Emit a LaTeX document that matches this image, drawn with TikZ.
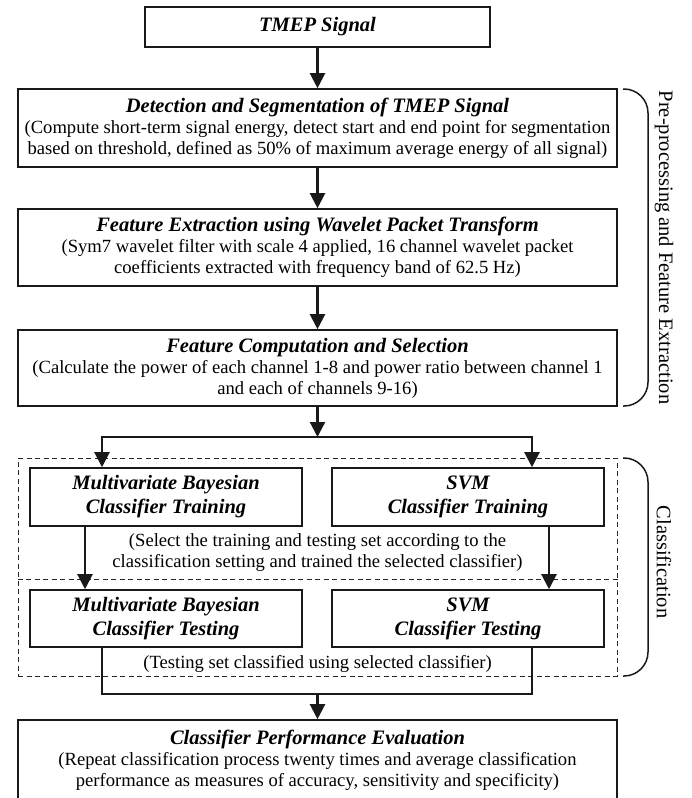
\documentclass[tikz,border=0pt]{standalone}
\usepackage{fontspec}
\setmainfont{Liberation Serif}
\usetikzlibrary{arrows.meta}
\newcommand{\mydesc}{\fontsize{18.6pt}{21pt}\selectfont}
\newcommand{\mytitle}{\fontsize{20.5pt}{21pt}\selectfont\bfseries\itshape}
\newcommand{\mytwo}{\fontsize{20.5pt}{24pt}\selectfont\bfseries\itshape}
\newcommand{\mylab}{\fontsize{20.5pt}{24pt}\selectfont}
\tikzset{
  box/.style={draw=black!90, line width=1.6pt, inner sep=0pt, align=center, font=\mydesc},
  twobox/.style={box, minimum width=272pt, font=\mytwo},
  ln/.style={line width=2.2pt, draw=black!90},
  arr/.style={line width=2.2pt, draw=black!90, -{Triangle[width=15pt,length=15pt]}},
  dsh/.style={line width=1pt, draw=black!85, dash pattern=on 5pt off 3.5pt},
  brk/.style={line width=1.5pt, draw=black!90, rounded corners=24pt},
  lbl/.style={rotate=-90, font=\mylab, inner sep=0pt},
  note/.style={align=center, font=\mydesc, inner sep=0pt}
}
\begin{document}
\begin{tikzpicture}[x=1pt,y={(0pt,-1pt)}]
\useasboundingbox (0,0) rectangle (691,798);
\clip (0,0) rectangle (691,798);

% main column
\node[box, minimum width=345pt, minimum height=40pt] (tmep) at (317.5,27) {\mytitle TMEP Signal};
\node[box, minimum width=599pt, minimum height=78pt] (det) at (317.5,128)
  {{\mytitle Detection and Segmentation of TMEP Signal}\\
   (Compute short-term signal energy, detect start and end point for segmentation\\
   based on threshold, defined as 50\% of maximum average energy of all signal)};
\node[box, minimum width=599pt, minimum height=77pt] (fe) at (317.5,247.5)
  {{\mytitle Feature Extraction using Wavelet Packet Transform}\\
   (Sym7 wavelet filter with scale 4 applied, 16 channel wavelet packet\\
   coefficients extracted with frequency band of 62.5 Hz)};
\node[box, minimum width=599pt, minimum height=76pt] (fc) at (317.5,368)
  {{\mytitle Feature Computation and Selection}\\
   (Calculate the power of each channel 1-8 and power ratio between channel 1\\
   and each of channels 9-16)};

% classification block
\node[dsh, draw, minimum width=599pt, minimum height=218pt, inner sep=0pt] (cls) at (317.5,567) {};
\draw[dsh] (cls.west |- 0,579) -- (cls.east |- 0,579);

\node[twobox, minimum height=58pt] (bt) at (166,497) {Multivariate Bayesian\\Classifier Training};
\node[twobox, minimum height=58pt] (st) at (468,497) {SVM\\Classifier Training};
\node[note] (selnote) at (317.5,553) {(Select the training and testing set according to the\\classification setting and trained the selected classifier)};
\node[twobox, minimum height=57pt] (bx) at (166,618.5) {Multivariate Bayesian\\Classifier Testing};
\node[twobox, minimum height=57pt] (sx) at (468,618.5) {SVM\\Classifier Testing};
\node[note] (testnote) at (317.5,664) {(Testing set classified using selected classifier)};

\node[box, minimum width=599pt, minimum height=81pt] (eval) at (317.5,760.5)
  {{\mytitle Classifier Performance Evaluation}\\
   (Repeat classification process twenty times and average classification\\
   performance as measures of accuracy, sensitivity and specificity)};

% connectors
\draw[arr] (tmep.south) -- (det.north);
\draw[arr] (det.south) -- (fe.north);
\draw[arr] (fe.south) -- (fc.north);

\coordinate (s1) at (317.5,437);
\coordinate (s1l) at (102,437);
\coordinate (s1r) at (532,437);
\draw[arr] (fc.south) -- (s1);
\draw[ln, {Triangle[width=15pt,length=15pt]}-{Triangle[width=15pt,length=15pt]}]
  (s1l |- bt.north) -- (s1l) -- (s1r) -- (s1r |- st.north);

\draw[arr] (bt.south -| 85,0) -- (bx.north -| 85,0);
\draw[arr] (st.south -| 549,0) -- (sx.north -| 549,0);

\coordinate (s2) at (317.5,694);
\coordinate (s2l) at (102,694);
\coordinate (s2r) at (532,694);
\draw[ln] (bx.south -| s2l) -- (s2l) -- (s2r) -- (sx.south -| s2r);
\draw[arr] (s2) -- (eval.north);

% brackets and side labels
\draw[brk] (623,89) -- (648,89) -- (648,406) -- (623,406);
\draw[brk] (623,458) -- (648,458) -- (648,676) -- (623,676);
\node[lbl] (lpre) at (664,247.5) {Pre-processing and Feature Extraction};
\node[lbl] (lcls) at (664,562) {Classification};
\end{tikzpicture}
\end{document}
